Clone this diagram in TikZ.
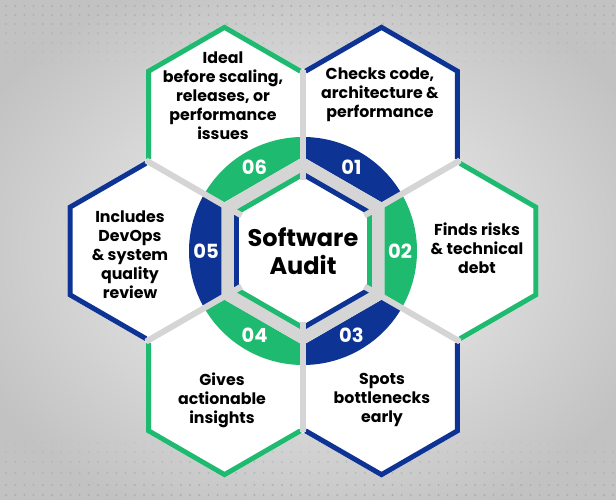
\documentclass[tikz,border=0pt]{standalone}
\usepackage{fontspec}
\setmainfont{Poppins}
\definecolor{cgreen}{HTML}{1EBA6F}
\definecolor{cblue}{HTML}{0D3494}
\definecolor{gapgray}{HTML}{D5D5D5}
\definecolor{bgout}{HTML}{C2C2C2}
\definecolor{bgin}{HTML}{F4F4F4}
\definecolor{dotgray}{HTML}{ABABAB}
\begin{document}
\begin{tikzpicture}[x=1pt,y=1pt,
  txt/.style={align=center, font=\fontsize{15.8}{19}\selectfont\bfseries, text=black, inner sep=0pt},
  num/.style={font=\fontsize{19.5}{22}\selectfont\bfseries, text=white, inner sep=0pt},
  title/.style={align=center, font=\fontsize{24}{28}\selectfont\bfseries, text=black, inner sep=0pt},
  gapline/.style={gapgray, line width=6pt},
  rim/.style={line width=5pt, line join=miter}]
\useasboundingbox (0,0) rectangle (616,500);
% background
\shade[inner color=bgin, outer color=bgout] (-60,-40) rectangle (676,540);
% dot pattern
\foreach \r/\o in {494/0.9,485/0.8,476/0.65,467/0.5,457/0.38,448/0.25,439/0.15}{
  \foreach \c in {0,...,66}{
    \fill[dotgray, opacity=\o] ({6+9.2*\c},\r) circle (1.1);
  }
}
\foreach \r/\o in {57/0.15,48/0.3,38/0.5,27/0.65,15/0.8,5/0.9}{
  \foreach \c in {0,...,66}{
    \fill[dotgray, opacity=\o] ({6+9.2*\c},\r) circle (1.1);
  }
}
\begin{scope}[shift={(303,249)}]
  % outer hexagons
  \foreach \a/\col in {0/cgreen,60/cblue,120/cgreen,180/cblue,240/cgreen,300/cblue}{
    \begin{scope}[shift={(\a:157)}]
      \fill[white] (30:90.6) -- (90:90.6) -- (150:90.6) -- (210:90.6) -- (270:90.6) -- (330:90.6) -- cycle;
      \draw[rim, \col] ({\a-90}:87.7) -- ({\a-30}:87.7) -- ({\a+30}:87.7) -- ({\a+90}:87.7);
    \end{scope}
  }
  % ring segments
  \foreach \t/\col in {0/cgreen,60/cblue,120/cgreen,180/cblue,240/cgreen,300/cblue}{
    \fill[\col] ({\t-30}:114) arc[start angle={\t-30}, end angle={\t+30}, radius=114]
      -- ({\t+30}:94.1) -- ({\t-30}:94.1) -- cycle;
  }
  % inner gap and centre hexagon
  \fill[gapgray] (30:94.1) -- (90:94.1) -- (150:94.1) -- (210:94.1) -- (270:94.1) -- (330:94.1) -- cycle;
  \fill[white] (30:73.9) -- (90:73.9) -- (150:73.9) -- (210:73.9) -- (270:73.9) -- (330:73.9) -- cycle;
  \foreach \t/\col in {0/cgreen,60/cblue,120/cgreen,180/cblue,240/cgreen,300/cblue}{
    \draw[\col, line width=5pt] ({\t-30}:76.8) -- ({\t+30}:76.8);
  }
  % separating lines
  \foreach \v in {30,90,...,330}{
    \draw[gapline] (\v:71) -- (\v:181.2);
  }
  % numbers
  \node[num] (n02) at (0:97) {02};
  \node[num] (n01) at (60:97) {01};
  \node[num] (n06) at (120:97) {06};
  \node[num] (n05) at (180:97) {05};
  \node[num] (n04) at (240:97) {04};
  \node[num] (n03) at (300:97) {03};
  \node[title] (center) at (0,0) {Software\\Audit};
\end{scope}
% texts
\node[txt] (t06) at (223,404.5) {Ideal\\before scaling,\\releases, or\\performance\\issues};
\node[txt] (t01) at (380,405) {Checks code,\\architecture \&\\performance};
\node[txt] (t02) at (477,252) {Finds risks\\\& technical\\debt};
\node[txt] (t05) at (130,245) {Includes\\DevOps\\\& system\\quality\\review};
\node[txt] (t04) at (222,100) {Gives\\actionable\\insights};
\node[txt] (t03) at (382,100) {Spots\\bottlenecks\\early};
\end{tikzpicture}
\end{document}
